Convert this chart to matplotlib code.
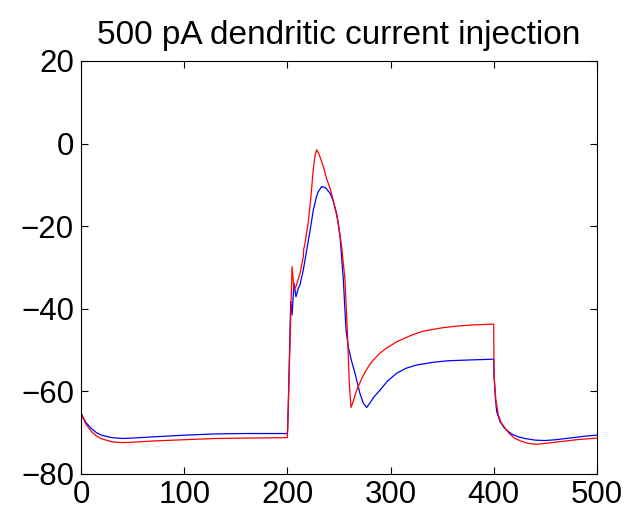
import matplotlib
matplotlib.use("Agg")
import matplotlib.pyplot as plt

plt.rcParams['font.family'] = ['Liberation Sans', 'DejaVu Sans']

# Somatic voltage traces (mV) versus time (ms)
t_blue = [0, 2, 5, 10, 15, 20, 30, 40, 50, 70, 100, 130, 160, 199.9,
          200.3, 203.2, 204.5, 206.4, 208.3, 210.6, 212.2, 215.4, 218.7, 222, 225.1,
          228, 230, 233.2, 237, 241.3, 244.5, 247.7, 251, 254.2, 256.8, 259, 262,
          265.5, 270.3, 273.6, 276.8, 280, 284, 289.7, 297, 305.9, 315, 325.3, 340,
          354.4, 375, 399.9,
          400.2, 401.5, 402.8, 406, 410, 414, 418, 423.8, 430, 440, 449.6, 460, 470,
          480, 490, 500]
v_blue = [-65.2, -66.3, -67.6, -69.0, -70.0, -70.6, -71.2, -71.4, -71.3, -71.0, -70.6,
          -70.3, -70.2, -70.2,
          -69.0, -38.3, -41.5, -33.8, -37.1, -35.0, -34.2, -30.6, -25.8, -21.0, -16.1,
          -13.0, -11.6, -10.4, -10.7, -12.0, -14.0, -16.9, -22.5, -33.0, -45.1, -49.2,
          -52.5, -55.6, -60.5, -62.9, -63.9, -62.8, -61.3, -59.7, -57.5, -55.6, -54.4,
          -53.6, -53.0, -52.6, -52.4, -52.2,
          -56.0, -61.5, -64.9, -67.3, -68.8, -69.7, -70.4, -71.0, -71.4, -71.8, -71.9,
          -71.7, -71.4, -71.1, -70.8, -70.6]

t_red = [0, 2, 5, 10, 15, 20, 30, 40, 50, 70, 100, 130, 160, 199.9,
         200.3, 204.5, 206.4, 208.3, 212.2, 215.4, 215.8, 217, 218, 220, 222.5, 225,
         226.7, 228.3, 230, 232, 234.8, 238, 241.3, 245, 249.4, 252.6, 255.8, 258,
         260, 261.6, 263, 265, 267, 270.3, 273, 276, 279.5, 283.2, 289, 295, 305.9,
         320, 331.7, 350, 364, 380, 399.9,
         400.2, 402, 404.4, 407, 410.9, 415, 420.5, 427, 433.4, 441.5, 449.6, 460,
         470, 480, 490, 500]
v_red = [-65.2, -66.5, -68.0, -69.7, -70.8, -71.5, -72.2, -72.4, -72.3, -72.0, -71.7,
         -71.4, -71.3, -71.2,
         -69.0, -29.8, -35.5, -34.6, -31.4, -27.5, -25.6, -24.3, -22.5, -19.5, -13.7,
         -6.4, -3.0, -1.5, -2.2, -3.5, -5.5, -8.5, -10.8, -14.3, -19.3, -25.0, -33.0,
         -45.1, -58.0, -63.9, -63.0, -61.4, -59.8, -57.9, -56.4, -55.0, -53.6, -52.4,
         -50.9, -49.7, -48.0,
         -46.4, -45.4, -44.6, -44.2, -43.9, -43.7,
         -56.0, -62.0, -65.7, -67.5, -68.9, -70.2, -71.4, -72.1, -72.6, -72.8, -72.6,
         -72.3, -72.0, -71.7, -71.5, -71.3]

x_ticks = [0, 100, 200, 300, 400, 500]
y_ticks = [-80, -60, -40, -20, 0, 20]

fig = plt.figure(figsize=(6.31, 5.20), dpi=100)
ax = fig.add_axes([81 / 631, 46 / 520, 516 / 631, 413 / 520])

ax.plot(t_blue, v_blue, color=(0, 0, 1), lw=0.9)
ax.plot(t_red, v_red, color=(1, 0, 0), lw=0.9)

ax.set_xlim(0, 500)
ax.set_ylim(-80, 20)
ax.set_xticks(x_ticks)
ax.set_yticks(y_ticks)

ax.tick_params(direction='in', top=True, right=True, length=5, width=0.8,
               labelsize=22.5)
ax.tick_params(axis='x', pad=4)
ax.tick_params(axis='y', pad=5)
for s in ax.spines.values():
    s.set_linewidth(0.8)

ax.set_title('500 pA dendritic current injection', fontsize=24, pad=12)

fig.savefig('out.png', dpi=100)
